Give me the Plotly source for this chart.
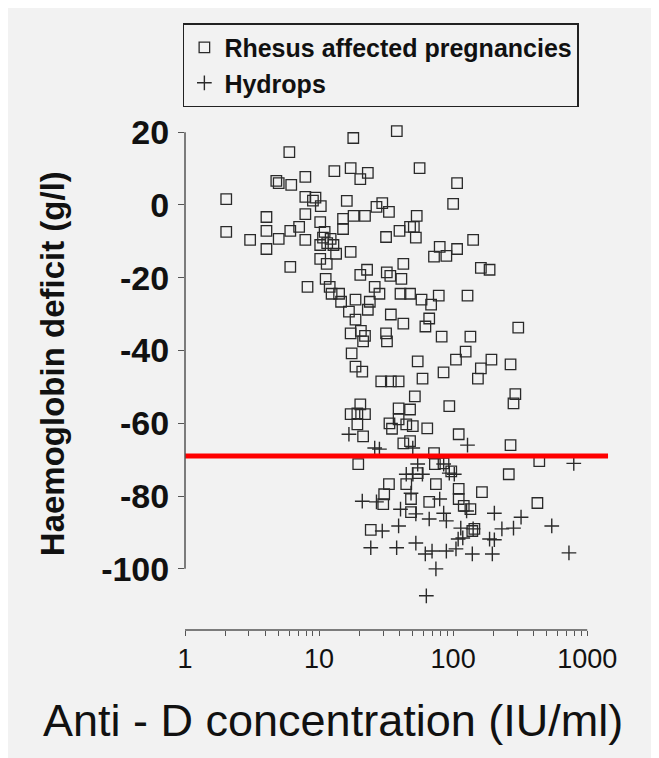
import math
import plotly.graph_objects as go

# ---------------- data ----------------
rhesus_x = [38, 18, 6.0, 13, 17.2, 20.3, 23.1, 7.9, 4.8, 5.0, 6.2, 2.03, 7.9, 9.0, 9.4, 10.3, 16.1,
            29.6, 26.8, 33.2, 4.05, 7.9, 10.2, 15.1, 15.1, 18.1, 22.0, 2.03, 3.06, 4.05, 4.05, 5.0,
            6.1, 7.1, 7.9, 11.0, 10.7, 11.5, 12.2, 12.8, 10.2, 13.4, 10.2, 11.4, 17.2, 31.6, 39.8,
            47.7, 6.1, 8.2, 11.2, 12.0, 12.4, 14.1, 14.6, 18.7, 20.3, 22.8, 32, 34, 42.5, 41.1, 26.0,
            28.2, 23.9, 40.5, 47.7,
            56.2, 107, 100, 53.5, 50.9, 52.7, 141, 79.4, 72, 89, 107, 161, 187, 58.1, 68.5, 78.1, 128,
            16.7, 23.1, 34.3, 42.5, 18.7, 17.2, 20.5, 22, 21.3, 31.6, 32.1, 17.5, 18.7, 21, 29.1, 34.3,
            39.2, 20.3, 17.2, 19.3, 22, 19.3, 21.3, 39.2, 47.7, 33.5, 35, 39.2, 44.7, 42.5, 47.7, 19.6,
            306, 66.3, 62.1, 82.1, 134.5, 124, 105, 193, 268, 161, 153, 84.8, 54.4, 59.1, 51.8, 93.6,
            291, 282, 50, 64.1, 110, 268, 72, 439, 260,
            54.4, 73.1, 84.8, 96.8, 33.2, 44.7, 74.4, 110, 110, 164, 30.6, 30.1, 48.5, 66.3, 134.5,
            120, 48.5, 425, 24.3, 139, 144]
rhesus_y = [20.3, 18.4, 14.5, 9.3, 10.1, 7.1, 8.8, 7.7, 6.6, 6.0, 5.5, 1.6, 2.2, 1.2, 2.0, -0.3, 1.1,
            0.5, -0.5, -1.9, -3.3, -2.5, -4.7, -3.8, -6.6, -3.0, -3.0, -7.4, -9.6, -7.1, -12.1, -9.3,
            -7.1, -6.0, -9.6, -7.4, -9.0, -10.5, -9.3, -11.0, -11.0, -13.4, -14.8, -16.2, -12.9, -8.8, -7.1,
            -6.0, -17.0, -22.5, -20.3, -22.5, -24.4, -24.4, -26.6, -26.0, -19.2, -17.8, -18.5, -19.5, -16.2, -20.3, -22.5,
            -24.4, -26.6, -24.4, -24.4,
            10.1, 6.0, 0.3, -3.0, -6.0, -9.0, -9.6, -11.5, -14.2, -14.0, -12.1, -17.3, -17.8, -26.0, -27.4, -24.9, -24.9,
            -29.3, -28.8, -30.1, -32.6, -31.5, -35.3, -34.6, -36.0, -37.5, -35.3, -37.5, -40.8, -44.4, -45.8, -48.5, -48.5,
            -48.5, -54.8, -57.5, -57.3, -57.5, -60.3, -63.6, -55.9, -56.2, -60.0, -61.5, -58.9, -60.3, -65.5, -64.9, -71.2,
            -33.7, -31.2, -33.4, -36.2, -36.2, -40.3, -42.5, -42.5, -43.8, -44.9, -47.7, -46.0, -43.0, -47.7, -52.6, -55.3,
            -52.0, -54.5, -60.8, -61.4, -63.0, -66.0, -68.2, -70.4, -74.0,
            -73.7, -71.2, -71.0, -73.2, -76.7, -76.7, -76.7, -78.0, -80.8, -78.9, -79.5, -82.2, -80.8, -81.6, -83.6,
            -82.7, -84.4, -81.9, -89.3, -89.6, -89.0]

hydrops_x = [16.7, 28.2, 26, 50.1, 128, 50, 794, 54.4, 85, 93.6, 44.7, 21, 26.8, 40.5, 52.7, 66.3, 85,
             89, 126, 203, 321, 39.2, 29.6, 114, 231, 282, 544, 109, 187, 24.3, 37.9, 52.7, 62, 69.6,
             89, 105, 139, 196, 731, 74.4, 63.1, 48.5, 59, 102, 79.4, 118, 141, 203]
hydrops_y = [-63.0, -67.1, -66.8, -74.0, -66.0, -66.8, -71.0, -71.2, -71.2, -73.7, -74.0, -81.4, -81.6, -83.6, -84.9, -86.3, -84.7,
             -86.8, -84.1, -84.7, -85.8, -88.2, -89.6, -88.8, -89.0, -88.8, -88.2, -91.8, -91.8, -94.2, -94.2, -92.9, -95.9, -95.1,
             -95.1, -94.5, -95.9, -95.9, -95.6, -100.0, -107.4, -79.2, -74.0, -74.0, -80.8, -91.5, -89.0, -92.0]

threshold_y = -69
threshold_x = [1, 1430]

x_tickvals = [1, 2, 3, 4, 5, 6, 7, 8, 9, 10, 20, 30, 40, 50, 60, 70, 80, 90,
              100, 200, 300, 400, 500, 600, 700, 800, 900, 1000]
x_major = {1: "1", 10: "10", 100: "100", 1000: "1000"}
x_ticktext = [x_major.get(v, "") for v in x_tickvals]
y_tickvals = [20, 0, -20, -40, -60, -80, -100]
y_ticktext = [str(v) for v in y_tickvals]

x_title = "Anti - D concentration (IU/ml)"
y_title = "Haemoglobin deficit (g/l)"

X_LOG_RANGE = [0, 3.17]
Y_RANGE = [-116.8, 25]

BG = "#f2f2f2"
INK = "#2a2a2a"
FONT = "Liberation Sans, Arial, sans-serif"

fig = go.Figure()
fig.add_trace(go.Scatter(
    x=rhesus_x, y=rhesus_y, mode="markers", name="Rhesus affected pregnancies",
    marker=dict(symbol="square-open", size=10.5, color=INK, line=dict(width=1.3, color=INK)),
))
fig.add_trace(go.Scatter(
    x=hydrops_x, y=hydrops_y, mode="markers", name="Hydrops",
    marker=dict(symbol="cross-thin-open", size=10.5, color=INK, line=dict(width=1.4, color=INK)),
))
fig.add_trace(go.Scatter(
    x=threshold_x, y=[threshold_y, threshold_y], mode="lines", showlegend=False,
    line=dict(color="#ff0000", width=5), hoverinfo="skip",
))

span = X_LOG_RANGE[1] - X_LOG_RANGE[0]
x_axis_start = (math.log10(x_tickvals[0]) - X_LOG_RANGE[0]) / span
x_axis_end = (math.log10(x_tickvals[-1]) - X_LOG_RANGE[0]) / span

fig.update_layout(
    width=659, height=758,
    margin=dict(l=177, r=57, t=106, b=136, autoexpand=False),
    paper_bgcolor=BG, plot_bgcolor=BG,
    font=dict(family=FONT, color="#111"),
    showlegend=True,
    legend=dict(
        x=-0.005, y=1.0135, xanchor="left", yanchor="bottom",
        bgcolor=BG, bordercolor="#222", borderwidth=1.5,
        font=dict(size=25, family=FONT, color="#111", weight="bold"),
        tracegroupgap=0,
    ),
    xaxis=dict(
        type="log", range=X_LOG_RANGE,
        tickvals=x_tickvals, ticktext=x_ticktext,
        ticks="outside", ticklen=5, tickwidth=1, tickcolor="#555",
        showgrid=False, zeroline=False, showline=False,
        tickfont=dict(size=27, family=FONT, color="#111"),
        ticklabelstandoff=0,
    ),
    yaxis=dict(
        range=Y_RANGE, tickvals=y_tickvals, ticktext=y_ticktext,
        ticks="outside", ticklen=6, tickwidth=1, tickcolor="#555",
        showgrid=False, zeroline=False, showline=False,
        tickfont=dict(size=34, family=FONT, color="#111", weight="bold"),
        ticklabelstandoff=2,
    ),
    shapes=[
        dict(type="line", xref="paper", yref="y", x0=0, x1=0,
             y0=y_tickvals[-1], y1=y_tickvals[0], line=dict(color="#555", width=1.5)),
        dict(type="line", xref="paper", yref="paper", x0=x_axis_start, x1=x_axis_end,
             y0=0, y1=0, line=dict(color="#555", width=1.5)),
    ],
    annotations=[
        dict(text=x_title, xref="paper", yref="paper", x=0.348, y=-0.176,
             xanchor="center", yanchor="middle", showarrow=False,
             font=dict(size=45, family=FONT, color="#111")),
        dict(text=y_title, xref="paper", yref="paper", x=-0.313, y=0.517,
             xanchor="center", yanchor="middle", showarrow=False, textangle=-90,
             font=dict(size=33, family=FONT, color="#111", weight="bold")),
    ],
)

fig.write_html("out.html")
